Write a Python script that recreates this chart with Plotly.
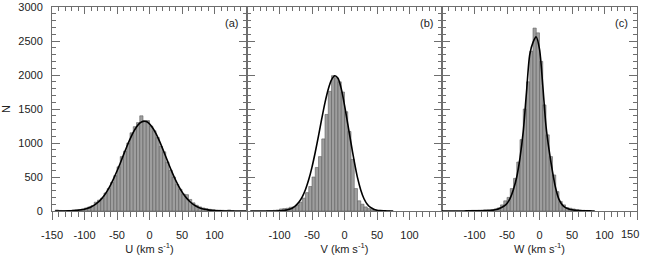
import numpy as np
import plotly.graph_objects as go

# ---------------- data ----------------
bin_width = 5

u_bin_start = -142.5
u_counts = [15, 8, 5, 6, 8, 12, 18, 22, 30, 45,
            60, 80, 130, 160, 190, 265, 330, 420, 520, 650,
            800, 880, 1000, 1150, 1240, 1300, 1400, 1330, 1330, 1250,
            1180, 1080, 950, 870, 720, 600, 500, 390, 320, 250,
            240, 170, 120, 85, 60, 45, 35, 25, 20, 15,
            12, 10, 8, 15, 5]

v_bin_start = -117.5
v_counts = [3, 5, 10, 15, 30, 35, 40, 55, 60, 90,
            130, 190, 270, 360, 500, 640, 800, 1060, 1420, 1760,
            1990, 1960, 1900, 1750, 1460, 1170, 760, 330, 150, 100,
            60, 35, 20, 12, 8, 5, 4, 3]

w_bin_start = -112.5
w_counts = [5, 8, 10, 10, 12, 14, 15, 18, 22, 30,
            45, 90, 150, 200, 330, 480, 720, 1050, 1500, 1900,
            2350, 2690, 2620, 2200, 1560, 1120, 800, 530, 285, 140,
            90, 50, 40, 30, 22, 15, 10, 8, 5]

# fitted curves, sampled every 5 km/s
u_curve_start = -145
u_curve = [0, 0, 1, 1, 2, 4, 7, 11, 18, 27,
           41, 60, 87, 122, 168, 225, 297, 382, 480, 588,
           703, 825, 944, 1056, 1156, 1236, 1291, 1318, 1315, 1282,
           1221, 1138, 1035, 921, 801, 680, 565, 458, 363, 282,
           214, 159, 114, 81, 56, 38, 25, 16, 10, 6,
           4, 2, 1, 1, 0, 0, 0, 0, 0, 0]

v_curve_start = -145
v_curve = [0, 0, 0, 0, 0, 0, 0, 1, 1, 3,
           7, 13, 25, 45, 79, 131, 208, 316, 462, 646,
           864, 1106, 1357, 1594, 1791, 1928, 1988, 1951, 1799, 1558,
           1280, 1000, 730, 490, 310, 180, 99, 52, 26, 12,
           5, 2, 1, 0, 0]

w_curve_start = -150
w_curve = [0, 0, 0, 0, 0, 1, 1, 1, 2, 2,
           3, 3, 4, 5, 6, 8, 15, 25, 45, 70,
           110, 190, 320, 500, 780, 1170, 1750, 2300, 2480, 2560,
           2380, 1850, 1250, 880, 580, 330, 170, 90, 50, 30,
           18, 10, 6, 4, 3, 2, 1, 0]

panel_labels = ["(a)", "(b)", "(c)"]
x_titles = ["U (km s<sup>-1</sup>)", "V (km s<sup>-1</sup>)", "W (km s<sup>-1</sup>)"]
x_tickvals = [-150, -100, -50, 0, 50, 100, 150]
x_ticktext = [
    ["-150", "-100", "-50", "0", "50", "100", " "],
    [" ", "-100", "-50", "0", "50", "100", " "],
    [" ", "-100", "-50", "0", "50", "100", " "],
]
edge_label = "150"   # last tick label of panel (c), drawn flush with the right edge
y_tickvals = [0, 500, 1000, 1500, 2000, 2500, 3000]
y_ticktext = ["0", "500", "1000", "1500", "2000", "2500", "3000"]

# ---------------- figure ----------------
FONT = "Liberation Sans, Arial, sans-serif"
AX = "#6e6e6e"
BAR_FILL = "#9e9e9e"
BAR_EDGE = "#606060"

hists = [(u_bin_start, u_counts), (v_bin_start, v_counts), (w_bin_start, w_counts)]
curves = [(u_curve_start, u_curve), (v_curve_start, v_curve), (w_curve_start, w_curve)]

fig = go.Figure()
for i in range(3):
    xa = "x" if i == 0 else f"x{i+1}"
    ya = "y" if i == 0 else f"y{i+1}"
    start, counts = hists[i]
    centers = start + bin_width * np.arange(len(counts))
    fig.add_trace(go.Bar(x=centers, y=counts, width=bin_width,
                         marker=dict(color=BAR_FILL, line=dict(color=BAR_EDGE, width=0.6)),
                         xaxis=xa, yaxis=ya, showlegend=False))
    cstart, cvals = curves[i]
    cx = cstart + 5 * np.arange(len(cvals))
    fig.add_trace(go.Scatter(x=cx, y=cvals, mode="lines",
                             line=dict(color="black", width=1.6, shape="spline", smoothing=0.8),
                             xaxis=xa, yaxis=ya, showlegend=False))
    # invisible trace so the top tick axis is drawn
    fig.add_trace(go.Scatter(x=[0], y=[-1000], mode="markers", marker=dict(opacity=0),
                             xaxis=f"x{i+4}", yaxis=ya, showlegend=False, hoverinfo="skip"))

domains = [[0, 1/3], [1/3, 2/3], [2/3, 1]]
layout = dict(
    width=646, height=258,
    margin=dict(l=52, r=9, t=7, b=47, autoexpand=False),
    paper_bgcolor="white", plot_bgcolor="white",
    bargap=0,
    font=dict(family=FONT, size=11, color="#222"),
)
for i in range(3):
    sfx = "" if i == 0 else str(i + 1)
    ysfx = "" if i == 0 else str(i + 1)
    layout[f"xaxis{sfx}"] = dict(
        domain=domains[i], anchor=f"y{ysfx}", range=[-150, 150],
        showline=True, linecolor=AX, linewidth=1, mirror=False,
        ticks="outside", ticklen=8, tickcolor=AX, tickwidth=1,
        tickmode="array", tickvals=x_tickvals, ticktext=x_ticktext[i],
        minor=dict(ticks="outside", ticklen=5, tickcolor=AX, tickmode="linear", tick0=0, dtick=10),
        ticklabelstandoff=6, automargin=False,
        showgrid=False, zeroline=False,
        title=dict(text=x_titles[i], standoff=0, font=dict(size=11)),
        fixedrange=True,
    )
    layout[f"xaxis{i+4}"] = dict(
        overlaying=f"x{sfx}", matches=f"x{sfx}", anchor=f"y{ysfx}", side="top",
        range=[-150, 150], automargin=False,
        showline=True, linecolor=AX, linewidth=1,
        ticks="inside", ticklen=7, tickcolor=AX, tickwidth=1,
        tickmode="linear", tick0=0, dtick=50, showticklabels=False,
        minor=dict(ticks="inside", ticklen=4, tickcolor=AX, tickmode="linear", tick0=0, dtick=10),
        showgrid=False, zeroline=False,
    )
    layout[f"yaxis{ysfx}"] = dict(
        anchor=f"x{sfx}", range=[0, 3000], domain=[0, 1],
        showline=True, linecolor=AX, linewidth=1, mirror="ticks",
        ticks="inside", ticklen=8, tickcolor=AX, tickwidth=1,
        tickmode="array", tickvals=y_tickvals, ticktext=y_ticktext,
        minor=dict(ticks="inside", ticklen=4, tickcolor=AX, tickmode="linear", tick0=0, dtick=100),
        showticklabels=(i == 0), ticklabelstandoff=6, automargin=False,
        showgrid=False, zeroline=False, fixedrange=True,
    )
    if i > 0:
        layout[f"yaxis{ysfx}"]["matches"] = "y"
layout["yaxis"]["title"] = dict(text="N", standoff=6, font=dict(size=11))

annotations = []
for i in range(3):
    sfx = "" if i == 0 else str(i + 1)
    annotations.append(dict(
        text=panel_labels[i], xref=f"x{sfx} domain", yref=f"y{sfx} domain",
        x=1, y=0.92, xanchor="right", yanchor="middle", xshift=-7,
        showarrow=False, font=dict(size=11, family=FONT, color="#222")))
annotations.append(dict(
    text=edge_label, xref="x3", yref="y3 domain", x=150, y=0,
    xanchor="right", yanchor="middle", xshift=4, yshift=-23,
    showarrow=False, font=dict(size=11, family=FONT, color="#222")))
layout["annotations"] = annotations

fig.update_layout(**layout)
fig.write_html("out.html",
               config={"displayModeBar": False, "staticPlot": True},
               post_script="document.body.style.margin='0';document.body.style.overflow='hidden';")
